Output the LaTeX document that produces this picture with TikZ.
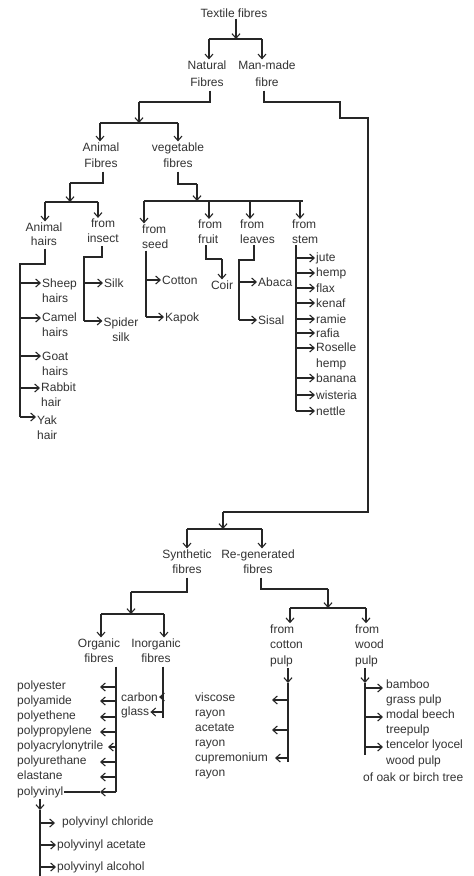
\documentclass[tikz,border=0pt]{standalone}
\usepackage{fontspec}
\setmainfont{Liberation Sans}
\usetikzlibrary{arrows.meta}
\begin{document}
\begin{tikzpicture}[x=1pt,y=-1pt,
  ln/.style={draw=black!85,line width=1.1pt},
  ar/.style={ln,-{Straight Barb[length=4.5pt,width=8pt]}},
  tx/.style={text=black!80,inner sep=1pt,font=\fontsize{12}{15}\selectfont},
  tc/.style={tx,align=center},
  tl/.style={tx,align=left,anchor=west},
]
\fill[white] (0,0) rectangle (474,876);
\useasboundingbox (0,0) rectangle (474,876);

% ---------- nodes: top ----------
\node[tx] (tf) at (234,13) {Textile fibres};
\node[tc,font=\fontsize{12}{17}\selectfont] (nat) at (207,73.5) {Natural\\Fibres};
\node[tc,font=\fontsize{12}{17}\selectfont] (man) at (267,73.5) {Man-made\\fibre};
\node[tc,font=\fontsize{12}{16}\selectfont] (ani) at (101,155) {Animal\\Fibres};
\node[tc,font=\fontsize{12}{16}\selectfont] (veg) at (178,155) {vegetable\\fibres};
\node[tc,font=\fontsize{12}{14}\selectfont] (ah) at (44,234) {Animal\\hairs};
\node[tc] (ins) at (103,231) {from\\insect};
\node[tl] (seed) at (141,236.5) {from\\seed};
\node[tl] (fruit) at (197,232) {from\\fruit};
\node[tl] (leaves) at (239,232) {from\\leaves};
\node[tl] (stem) at (291,232) {from\\stem};

\node[tl] (sheep) at (41,290.5) {Sheep\\hairs};
\node[tl] (camel) at (41,325) {Camel\\hairs};
\node[tl] (goat) at (41,363.5) {Goat\\hairs};
\node[tl] (rabbit) at (40,395) {Rabbit\\hair};
\node[tl] (yak) at (36,427.5) {Yak\\hair};
\node[tl] (silk) at (103,283) {Silk};
\node[tc] (spider) at (121,329.5) {Spider\\silk};
\node[tl] (cotton) at (161,280) {Cotton};
\node[tl] (kapok) at (164,318) {Kapok};
\node[tx] (coir) at (222,285) {Coir};
\node[tl] (abaca) at (257,282) {Abaca};
\node[tl] (sisal) at (257,320) {Sisal};

\node[tl] (s1) at (315,258) {jute};
\node[tl] (s2) at (315,273) {hemp};
\node[tl] (s3) at (315,288) {flax};
\node[tl] (s4) at (315,303) {kenaf};
\node[tl] (s5) at (315,319) {ramie};
\node[tl] (s6) at (315,333) {rafia};
\node[tl,font=\fontsize{12}{16}\selectfont] (s7) at (315,356) {Roselle\\hemp};
\node[tl] (s8) at (315,378) {banana};
\node[tl] (s9) at (315,395) {wisteria};
\node[tl] (s10) at (315,411) {nettle};

% ---------- nodes: bottom ----------
\node[tc] (syn) at (187,561.5) {Synthetic\\fibres};
\node[tc] (reg) at (258,561.5) {Re-generated\\fibres};
\node[tc] (org) at (99,650.5) {Organic\\fibres};
\node[tc] (inorg) at (156,650.5) {Inorganic\\fibres};
\node[tl,font=\fontsize{12}{15.5}\selectfont] (cp) at (269,645.5) {from\\cotton\\pulp};
\node[tl,font=\fontsize{12}{15.5}\selectfont] (wp) at (354,645.5) {from\\wood\\pulp};
\node[tl] (ray) at (194,735.5) {viscose\\rayon\\acetate\\rayon\\cupremonium\\rayon};
\node[tl,font=\fontsize{12}{15.2}\selectfont] (wl) at (385,723) {bamboo\\grass pulp\\modal beech\\treepulp\\tencelor lyocel\\wood pulp};
\node[tl] (oak) at (362,777) {of oak or birch tree};
\node[tl] (ol) at (16,730) {polyester\\polyamide\\polyethene\\polypropylene\\polyacrylonytrile\\polyurethane\\elastane};
\node[tl] (pv) at (16,792) {polyvinyl};
\node[tl] (carbon) at (120,697) {carbon};
\node[tl] (glass) at (120,712) {glass};
\node[tl] (pc) at (61,822) {polyvinyl chloride};
\node[tl] (pa) at (56,845) {polyvinyl acetate};
\node[tl] (pal) at (56,867) {polyvinyl alcohol};

% ---------- connectors: top ----------
\coordinate (b0) at (236,39); \coordinate (b0l) at (209,39); \coordinate (b0r) at (262,39);
\draw[ar] (tf.south -| b0) -- (b0);
\draw[ln] (b0l) -- (b0r);
\draw[ar] (b0l) -- (b0l |- nat.north);
\draw[ar] (b0r) -- (b0r |- man.north);

\coordinate (n1) at (210,102); \coordinate (n2) at (139,102);
\coordinate (b1) at (139,123); \coordinate (b1l) at (100,123); \coordinate (b1r) at (178,123);
\draw[ln,shorten <=3pt] (nat.south -| n1) -- (n1) -- (n2);
\draw[ar] (n2) -- (b1);
\draw[ln] (b1l) -- (b1r);
\draw[ar] (b1l) -- (b1l |- ani.north);
\draw[ar] (b1r) -- (b1r |- veg.north);

\coordinate (m1) at (264,102); \coordinate (m2) at (340,102); \coordinate (m3) at (340,118);
\coordinate (m4) at (368,118); \coordinate (m5) at (368,512); \coordinate (m6) at (223,512);
\coordinate (b2) at (223,529); \coordinate (b2l) at (187,529); \coordinate (b2r) at (262,529);
\draw[ln,shorten <=3pt] (man.south -| m1) -- (m1) -- (m2) -- (m3) -- (m4) -- (m5) -- (m6);
\draw[ar] (m6) -- (b2);
\draw[ln] (b2l) -- (b2r);
\draw[ar] (b2l) -- (b2l |- syn.north);
\draw[ar] (b2r) -- (b2r |- reg.north);

\coordinate (a1) at (103,183); \coordinate (a2) at (70,183);
\coordinate (b3) at (70,202); \coordinate (b3l) at (45,202); \coordinate (b3r) at (98,202);
\draw[ln,shorten <=3pt] (ani.south -| a1) -- (a1) -- (a2);
\draw[ar] (a2) -- (b3);
\draw[ln] (b3l) -- (b3r);
\draw[ar] (b3l) -- (b3l |- ah.north);
\draw[ar] (b3r) -- (b3r |- ins.north);

\coordinate (v1) at (178,184); \coordinate (v2) at (197,184);
\coordinate (b4) at (197,201); \coordinate (b4l) at (144,201); \coordinate (b4r) at (303,201);
\coordinate (b4a) at (209,201); \coordinate (b4b) at (250,201); \coordinate (b4c) at (300,201);
\draw[ln,shorten <=3pt] (veg.south -| v1) -- (v1) -- (v2);
\draw[ar] (v2) -- (b4);
\draw[ln] (b4l) -- (b4r);
\draw[ar] (b4l) -- (b4l |- seed.north);
\draw[ar] (b4a) -- (b4a |- fruit.north);
\draw[ar] (b4b) -- (b4b |- leaves.north);
\draw[ar] (b4c) -- (b4c |- stem.north);

% animal hairs
\coordinate (h1) at (45,264); \coordinate (h2) at (20,264); \coordinate (h3) at (20,417);
\coordinate (hs) at (20,283); \coordinate (hc) at (20,318); \coordinate (hg) at (20,356); \coordinate (hr) at (20,388);
\draw[ln,shorten <=2pt] (ah.south -| h1) -- (h1) -- (h2) -- (h3);
\draw[ar] (h3) -- (h3 -| yak.west);
\draw[ar] (hs) -- (hs -| sheep.west);
\draw[ar] (hc) -- (hc -| camel.west);
\draw[ar] (hg) -- (hg -| goat.west);
\draw[ar] (hr) -- (hr -| rabbit.west);

% insect
\coordinate (i1) at (102,257); \coordinate (i2) at (84,257); \coordinate (i3) at (84,321); \coordinate (is) at (84,283);
\draw[ln,shorten <=2pt] (ins.south -| i1) -- (i1) -- (i2) -- (i3);
\draw[ar] (i3) -- (i3 -| spider.west);
\draw[ar] (is) -- (is -| silk.west);

% seed
\coordinate (sd1) at (146,317); \coordinate (sd2) at (146,280);
\draw[ln,shorten <=1pt] (seed.south -| sd1) -- (sd1);
\draw[ar] (sd1) -- (sd1 -| kapok.west);
\draw[ar] (sd2) -- (sd2 -| cotton.west);

% fruit
\coordinate (f1) at (206,259); \coordinate (f2) at (222,259);
\draw[ln] (fruit.south -| f1) -- (f1) -- (f2);
\draw[ar] (f2) -- (coir.north);

% leaves
\coordinate (l1) at (254,260); \coordinate (l2) at (239,260); \coordinate (l3) at (239,320); \coordinate (la) at (239,282);
\draw[ln] (leaves.south -| l1) -- (l1) -- (l2) -- (l3);
\draw[ar] (l3) -- (l3 -| sisal.west);
\draw[ar] (la) -- (la -| abaca.west);

% stem
\coordinate (st0) at (296,0); \coordinate (r7) at (296,348);
\draw[ln] (stem.south -| st0) -- (st0 |- s10.west);
\foreach \n in {s1,s2,s3,s4,s5,s6,s8,s9,s10} \draw[ar] (st0 |- \n.west) -- (\n.west);
\draw[ar] (r7) -- (r7 -| s7.west);

% ---------- connectors: bottom ----------
\coordinate (y1) at (187,592); \coordinate (y2) at (131,592);
\coordinate (b5) at (131,614); \coordinate (b5l) at (101,614); \coordinate (b5r) at (164,614);
\draw[ln,shorten <=3pt] (syn.south -| y1) -- (y1) -- (y2);
\draw[ar] (y2) -- (b5);
\draw[ln] (b5l) -- (b5r);
\draw[ar] (b5l) -- (b5l |- org.north);
\draw[ar] (b5r) -- (b5r |- inorg.north);

\coordinate (g1) at (261,589); \coordinate (g2) at (328,589);
\coordinate (b6) at (328,608); \coordinate (b6l) at (290,608); \coordinate (b6r) at (366,608);
\draw[ln,shorten <=3pt] (reg.south -| g1) -- (g1) -- (g2);
\draw[ar] (g2) -- (b6);
\draw[ln] (b6l) -- (b6r);
\draw[ar] (b6l) -- (b6l |- cp.north);
\draw[ar] (b6r) -- (b6r |- wp.north);

% organic
\coordinate (oe) at (116,792); \coordinate (ot) at (100,792);
\draw[ln,shorten <=3pt] (org.south -| oe) -- (oe);
\foreach \yy/\xx in {687/100,701/100,717/100,732/100,747/108,762/100,777/100}
  \draw[ar] (116,\yy) -- (\xx,\yy);
\draw[ar] (oe) -- (ot);
\draw[ln] (ot) -- (pv.east);

% inorganic
\coordinate (ie) at (163,718); \coordinate (ic) at (163,697); \coordinate (ig) at (163,712);
\draw[ln,shorten <=3pt] (inorg.south -| ie) -- (ie);
\draw[ar] (ic) -- (ic -| carbon.east);
\draw[ar] (ig) -- (ig -| glass.east);

% cotton pulp
\coordinate (cpx) at (288,683); \coordinate (cpe) at (288,762);
\coordinate (c1) at (288,700); \coordinate (c2) at (288,730); \coordinate (c3) at (288,758);
\draw[ar] (cp.south -| cpx) -- (cpx);
\draw[ln] (cpx) -- (cpe);
\draw[ar] (c1) -- (272,700);
\draw[ar] (c2) -- (272,730);
\draw[ar] (c3) -- (275,758);

% wood pulp
\coordinate (wpx) at (365,683); \coordinate (wpe) at (365,755);
\coordinate (w1) at (365,688); \coordinate (w2) at (365,717); \coordinate (w3) at (365,747);
\draw[ar] (wp.south -| wpx) -- (wpx);
\draw[ln] (wpx) -- (wpe);
\draw[ar,shorten >=2pt] (w1) -- (w1 -| wl.west);
\draw[ar,shorten >=2pt] (w2) -- (w2 -| wl.west);
\draw[ar,shorten >=2pt] (w3) -- (w3 -| wl.west);

% polyvinyl
\coordinate (pvx) at (40,810); \coordinate (pve) at (40,876);
\coordinate (p1) at (40,823); \coordinate (p2) at (40,845); \coordinate (p3) at (40,867);
\draw[ar] (pv.south -| pvx) -- (pvx);
\draw[ln] (pvx) -- (pve);
\draw[ar,shorten >=6pt] (p1) -- (p1 -| pc.west);
\draw[ar] (p2) -- (p2 -| pa.west);
\draw[ar] (p3) -- (p3 -| pal.west);
\end{tikzpicture}
\end{document}
